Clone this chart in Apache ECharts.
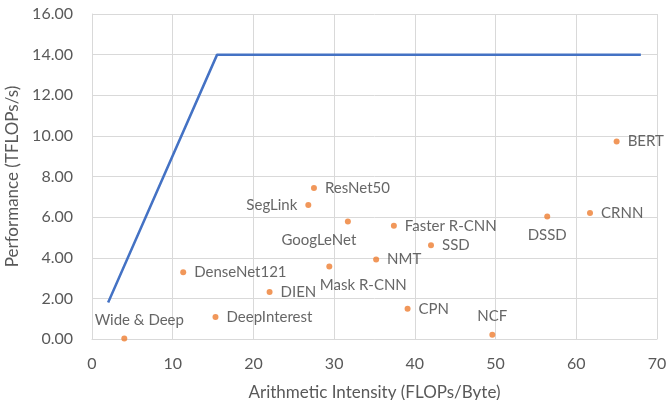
<!DOCTYPE html>
<html>
<head>
<meta charset="utf-8">
<script src="https://cdn.jsdelivr.net/npm/echarts@6/dist/echarts.min.js"></script>
<style>
  html, body { margin: 0; padding: 0; background: #fff; }
  #main { width: 667px; height: 400px; }
</style>
</head>
<body>
<div id="main"></div>
<script>
// roofline
const roofX = [2, 15.5, 68];
const roofY = [1.8, 14, 14];

// workloads
const models = ["BERT", "ResNet50", "SegLink", "GoogLeNet", "Faster R-CNN", "SSD", "NMT",
  "Mask R-CNN", "DenseNet121", "DIEN", "DeepInterest", "Wide & Deep", "CPN", "NCF", "DSSD", "CRNN"];
const intensity = [65.0, 27.5, 26.8, 31.7, 37.4, 42.0, 35.2, 29.4, 11.3, 22.0, 15.3, 4.0, 39.1, 49.6, 56.4, 61.7];
const perf = [9.72, 7.44, 6.60, 5.78, 5.57, 4.62, 3.92, 3.57, 3.29, 2.31, 1.08, 0.03, 1.49, 0.21, 6.03, 6.20];

// where the label sits for each point (default: right)
const labelPlace = {
  "SegLink": { position: "left" },
  "GoogLeNet": { position: "bottom", offset: [-29, 0] },
  "Mask R-CNN": { position: "bottom", offset: [34, 0] },
  "DSSD": { position: "bottom" },
  "Wide & Deep": { position: "top", offset: [15, 0] },
  "NCF": { position: "top" }
};

const textColor = "#595959";
const font = "Lato, 'Open Sans', sans-serif";

var myChart = echarts.init(document.getElementById("main"));

var scatterData = models.map(function(name, i) {
  var lab = labelPlace[name] || { position: "right" };
  return {
    name: name,
    value: [intensity[i], perf[i]],
    label: lab
  };
});

myChart.setOption({
  animation: false,
  grid: { left: 92, right: 10, top: 14, bottom: 61, outerBoundsMode: "none" },
  xAxis: {
    type: "value",
    min: 0,
    max: 70,
    interval: 10,
    name: "Arithmetic Intensity (FLOPs/Byte)",
    nameLocation: "middle",
    nameGap: 45,
    nameTextStyle: { color: textColor, fontSize: 17, fontFamily: font },
    axisLine: { lineStyle: { color: "#d9d9d9" } },
    axisTick: { show: false },
    axisLabel: { color: textColor, fontSize: 16, fontFamily: font, margin: 17 },
    splitLine: { lineStyle: { color: "#d9d9d9", width: 1 } }
  },
  yAxis: {
    type: "value",
    min: 0,
    max: 16,
    interval: 2,
    name: "Performance (TFLOPs/s)",
    nameLocation: "middle",
    nameGap: 69,
    nameTextStyle: { color: textColor, fontSize: 17, fontFamily: font },
    axisLine: { show: true, lineStyle: { color: "#d9d9d9" } },
    axisTick: { show: false },
    axisLabel: {
      color: textColor, fontSize: 16, fontFamily: font, margin: 19,
      formatter: function(v) { return v.toFixed(2); }
    },
    splitLine: { lineStyle: { color: "#d9d9d9", width: 1 } }
  },
  series: [
    {
      name: "roofline",
      type: "line",
      data: roofX.map(function(x, i) { return [x, roofY[i]]; }),
      showSymbol: false,
      lineStyle: { color: "#4472C4", width: 2.5 },
      z: 2
    },
    {
      name: "workloads",
      type: "scatter",
      data: scatterData,
      symbolSize: 6,
      itemStyle: { color: "#ED7D31" },
      label: {
        show: true,
        formatter: "{b}",
        color: "#404040",
        fontSize: 15,
        fontFamily: font,
        distance: 8
      },
      z: 3
    }
  ]
});
</script>
</body>
</html>
